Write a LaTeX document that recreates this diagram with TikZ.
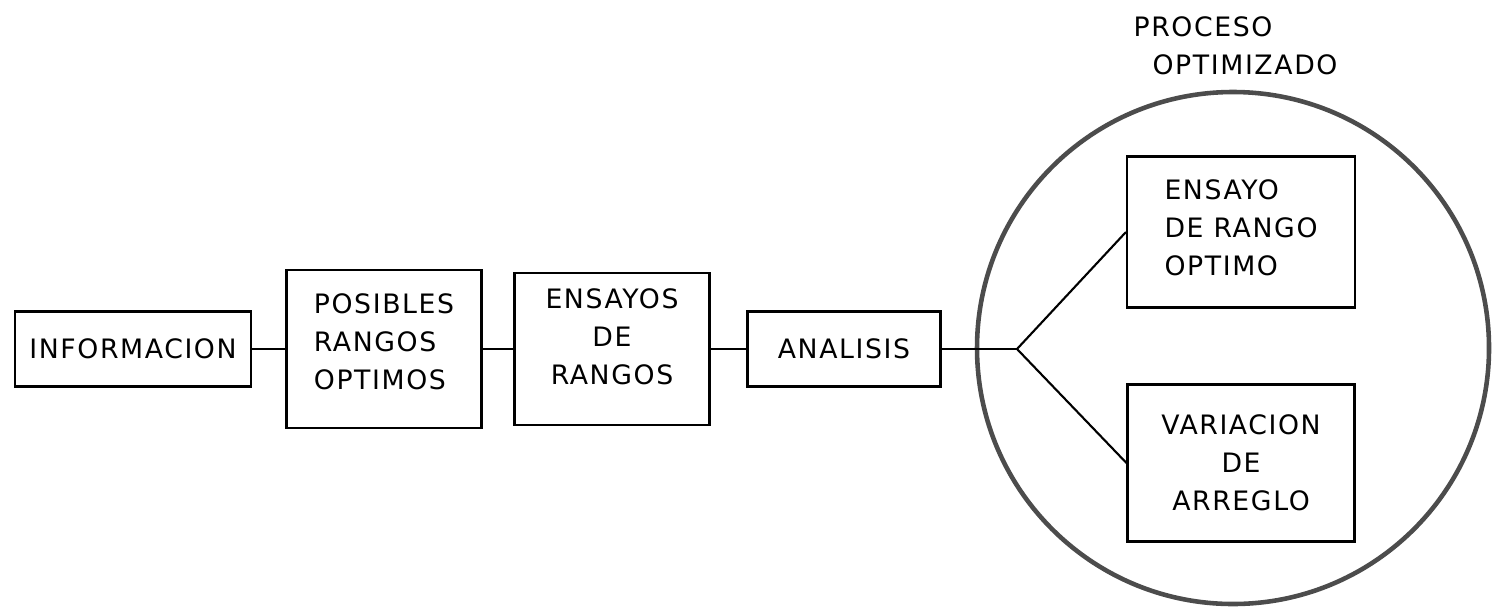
\documentclass[tikz,border=0pt]{standalone}
\usepackage{fontspec}
\setmainfont[LetterSpace=6]{DejaVu Sans}
\usetikzlibrary{positioning}

\begin{document}
\begin{tikzpicture}[x=0.1mm, y=-0.1mm, line width=0.6pt,
    block/.style={draw, align=center, inner sep=2pt, font=\fontsize{7.6}{10.8}\selectfont},
    label/.style={font=\fontsize{7.6}{10.8}\selectfont}]
    \useasboundingbox (0,0) rectangle (1498,611);
    \node[draw=gray!60!black, line width=1.3pt, circle, minimum size=5.12cm] (ring) at (1233,348) {};
    \node[block, minimum width=2.36cm, minimum height=0.75cm] (info) at (133,349) {INFORMACION};
    \node[block, align=left, minimum width=1.95cm, minimum height=1.58cm, text depth=0.15cm] (posibles) at (384,349) {POSIBLES\\RANGOS\\OPTIMOS};
    \node[block, minimum width=1.95cm, minimum height=1.52cm, text depth=0.24cm] (ensayos) at (612,349) {ENSAYOS\\DE\\RANGOS};
    \node[block, minimum width=1.93cm, minimum height=0.75cm] (analisis) at (844,349) {ANALISIS};
    \coordinate (split) at (1017,349);
    \node[block, align=left, minimum width=2.28cm, minimum height=1.51cm, text depth=0.08cm] (optimo) at (1241,232) {ENSAYO\\DE RANGO\\OPTIMO};
    \node[block, minimum width=2.27cm, minimum height=1.57cm] (arreglo) at (1241,463) {VARIACION\\DE\\ARREGLO};
    \node[label] (titulo1) at (1203,27) {PROCESO};
    \node[label] (titulo2) at (1245,65) {OPTIMIZADO};
    \draw (info) -- (posibles);
    \draw (posibles) -- (ensayos);
    \draw (ensayos) -- (analisis);
    \draw (analisis) -- (split);
    \draw (split) -- (optimo.west);
    \draw (split) -- (arreglo.west);
\end{tikzpicture}
\end{document}
